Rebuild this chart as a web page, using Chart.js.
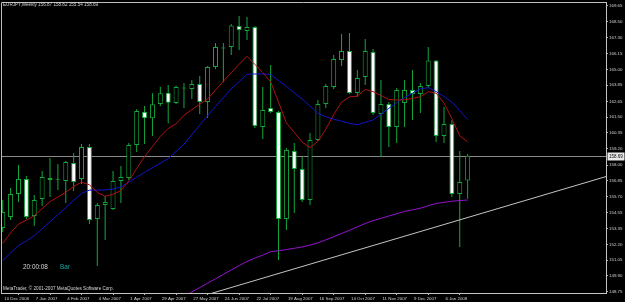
<!DOCTYPE html>
<html>
<head>
<meta charset="utf-8">
<title>EURJPY,Weekly</title>
<script src="https://cdn.jsdelivr.net/npm/chart.js@4.4.1/dist/chart.umd.min.js"></script>
<style>
  html, body { margin: 0; padding: 0; background: #000; }
  canvas { display: block; }
</style>
</head>
<body>
<canvas id="chart" width="625" height="302"></canvas>
<script>
// EURJPY weekly bars, 10 Dec 2006 .. 27 Jan 2008 (one entry per bar, left to right)
const OPEN  = [153.40,154.21,155.89,156.99,154.28,155.52,157.06,156.90,156.84,158.15,
               156.99,159.32,154.06,155.09,154.79,156.84,157.06,159.47,161.90,161.42,
               162.47,163.29,162.54,163.60,163.56,163.93,162.61,165.17,166.52,166.63,
               168.17,167.80,168.09,160.79,162.17,161.88,154.06,159.03,157.72,155.45,
               159.84,162.47,163.71,165.68,166.34,163.27,164.44,166.27,161.74,162.47,
               160.79,162.54,163.49,163.20,163.78,165.65,160.13,161.00,155.89,156.87];
const HIGH  = [155.45,156.33,158.01,157.20,155.82,157.57,158.52,158.08,158.30,158.89,
               159.54,159.54,155.23,155.74,157.57,157.94,159.62,162.10,162.32,163.25,
               163.73,163.86,163.82,164.00,164.22,164.51,165.24,166.92,166.92,168.31,
               168.90,168.82,168.17,163.71,165.32,161.95,159.25,159.62,158.59,160.35,
               162.76,163.93,166.05,167.58,167.66,164.95,167.22,166.49,164.22,162.61,
               163.64,164.22,164.95,164.00,166.63,165.68,162.25,161.30,159.03,158.82];
const LOW   = [153.11,153.99,155.31,154.06,153.55,155.01,155.67,156.18,155.23,156.11,
               156.62,153.70,150.63,152.53,154.72,155.23,156.91,158.96,159.54,160.13,
               162.32,161.06,162.47,162.17,162.83,161.74,161.44,165.02,164.06,166.05,
               166.41,167.14,160.71,159.91,161.81,151.07,153.26,154.50,155.31,155.09,
               159.76,162.17,163.56,165.24,163.20,162.98,163.86,161.66,158.59,159.32,
               159.62,160.79,161.30,161.81,163.64,159.69,159.62,155.67,152.02,155.54];
const CLOSE = [154.57,155.89,156.99,154.21,155.45,157.13,156.91,156.95,158.23,156.77,
               159.32,153.99,155.09,155.31,156.84,157.13,159.47,161.95,161.42,162.44,
               163.25,162.56,163.71,163.67,163.93,162.61,165.17,166.63,166.60,168.20,
               167.87,168.09,160.86,162.03,161.88,154.06,159.11,157.72,155.45,159.84,
               162.47,163.78,165.75,166.34,163.27,164.37,166.34,161.81,162.47,160.79,
               163.49,163.49,163.20,163.78,165.65,160.13,161.00,155.89,156.77,158.69];

// moving averages
const MA_RED    = [152.29,153.05,153.69,153.98,154.31,154.82,155.33,155.67,156.01,156.44,
                   156.75,156.56,156.01,155.72,155.87,156.14,156.85,157.75,158.62,159.36,
                   160.10,160.68,161.01,161.64,162.06,162.45,162.83,163.48,164.12,164.75,
                   165.37,165.95,165.36,164.76,164.09,162.59,161.09,160.39,159.69,159.28,
                   159.73,160.63,161.69,162.60,162.98,163.04,163.53,163.37,163.09,162.80,
                   162.76,162.77,162.88,162.99,163.37,163.26,162.54,161.40,160.14,159.70];
const MA_BLUE   = [151.02,151.59,152.12,152.46,152.83,153.35,153.87,154.38,154.90,155.42,
                   155.93,156.17,156.18,156.18,156.25,156.42,156.74,157.12,157.47,157.81,
                   158.14,158.48,159.00,159.53,160.22,160.92,161.61,162.28,162.93,163.58,
                   164.10,164.64,164.66,164.66,164.62,164.18,163.76,163.29,162.83,162.31,
                   161.79,161.53,161.36,161.21,161.06,160.95,161.12,161.30,161.71,162.15,
                   162.55,162.94,163.26,163.57,163.66,163.38,163.00,162.61,161.98,161.33];
const MA_PURPLE = [null,null,null,null,null,null,null,null,null,null,
                   null,null,null,null,null,null,null,null,null,null,
                   null,null,null,148.41,148.73,149.05,149.37,149.69,150.02,150.34,
                   150.66,150.96,151.21,151.42,151.68,151.74,151.83,151.92,152.02,152.16,
                   152.32,152.54,152.77,153.00,153.24,153.49,153.73,153.94,154.11,154.28,
                   154.45,154.62,154.73,154.85,155.03,155.20,155.28,155.36,155.41,155.45];

// hand-drawn trendline: bar index and price of its two ends
const TREND_BARS   = [26.5, 76.6];
const TREND_PRICES = [148.63, 157.17];

const PRICE_TICKS = [169.65,168.50,167.30,166.15,165.00,163.85,162.65,161.50,160.35,159.20,
                     158.00,156.85,155.70,154.55,153.35,152.20,151.05,149.90,148.75];
const TICK_BARS   = [0,4,8,12,16,20,24,28,32,36,40,44,48,52,56];
const TICK_LABELS = ['10 Dec 2006','7 Jan 2007','4 Feb 2007','4 Mar 2007','1 Apr 2007',
                     '29 Apr 2007','27 May 2007','24 Jun 2007','22 Jul 2007','19 Aug 2007',
                     '16 Sep 2007','14 Oct 2007','11 Nov 2007','9 Dec 2007','6 Jan 2008'];
const SYMBOL = 'EURJPY,Weekly';

const CANDLE_GREEN = '#14a83c';
const FONT = '"Liberation Sans", Arial, sans-serif';

const last = CLOSE.length - 1;

// ── Overlay: bid line, price box, header and terminal texts ──────────────────
const mt4Overlay = {
  id: 'mt4Overlay',
  beforeDatasetsDraw(chart) {
    const { ctx, chartArea: a, scales: { y } } = chart;
    const py = Math.round(y.getPixelForValue(CLOSE[last])) + 0.5;
    ctx.save();
    ctx.strokeStyle = '#8a8a8a';
    ctx.lineWidth = 1;
    ctx.beginPath();
    ctx.moveTo(a.left, py);
    ctx.lineTo(a.right, py);
    ctx.stroke();
    ctx.restore();
  },
  afterDraw(chart) {
    const { ctx, chartArea: a, scales: { y } } = chart;
    ctx.save();

    // left and top frame
    ctx.strokeStyle = '#bdbdbd';
    ctx.lineWidth = 1;
    ctx.beginPath();
    ctx.moveTo(a.left + 0.5, a.bottom);
    ctx.lineTo(a.left + 0.5, a.top + 0.5);
    ctx.lineTo(a.right, a.top + 0.5);
    ctx.stroke();

    ctx.textBaseline = 'middle';
    ctx.fillStyle = '#d6d6d6';
    ctx.font = `4.6px ${FONT}`;
    const head = [OPEN[last], HIGH[last], LOW[last], CLOSE[last]].map(v => v.toFixed(2)).join(' ');
    ctx.fillText(`${SYMBOL} ${head}`, a.left + 2, a.top + 3.2);
    ctx.fillText('MetaTrader, \u00a9 2001-2007 MetaQuotes Software Corp.', a.left + 2, a.bottom - 4);

    ctx.font = `6.4px ${FONT}`;
    ctx.fillText('20:00:08', 23, 267.5);
    ctx.fillStyle = '#1aa59b';
    ctx.fillText('Bar', 60, 267.5);

    // current price box on the axis
    const py = Math.round(y.getPixelForValue(CLOSE[last])) + 0.5;
    ctx.fillStyle = '#e8e8e8';
    ctx.fillRect(a.right + 1.5, py - 4, 17, 8);
    ctx.fillStyle = '#000';
    ctx.font = `4.5px ${FONT}`;
    ctx.fillText(CLOSE[last].toFixed(2), a.right + 3, py);
    ctx.restore();
  }
};

// ── Chart ─────────────────────────────────────────────────────────────────────
const bodies = OPEN.map((o, i) => ({ x: i, y: [o, CLOSE[i]] }));
const wicks  = LOW.map((l, i) => ({ x: i, y: [l, HIGH[i]] }));
const line = arr => arr.map((v, i) => ({ x: i, y: v }));

new Chart(document.getElementById('chart'), {
  type: 'bar',
  data: {
    datasets: [
      {
        type: 'line', data: line(MA_RED), borderColor: '#b01212', borderWidth: 1,
        pointRadius: 0, tension: 0, order: 0,
      },
      {
        type: 'line', data: line(MA_BLUE), borderColor: '#1414cc', borderWidth: 1,
        pointRadius: 0, tension: 0, order: 0,
      },
      {
        type: 'line', data: line(MA_PURPLE), borderColor: '#9612d2', borderWidth: 1,
        pointRadius: 0, tension: 0, order: 0,
      },
      {
        type: 'line',
        data: TREND_BARS.map((b, k) => ({ x: b, y: TREND_PRICES[k] })),
        borderColor: '#c4c4c4', borderWidth: 1, pointRadius: 0, order: 0,
      },
      {
        data: bodies,
        backgroundColor: OPEN.map((o, i) => CLOSE[i] >= o ? '#000' : '#fff'),
        borderColor: CANDLE_GREEN, borderWidth: 1, borderSkipped: false,
        grouped: false, maxBarThickness: 5, minBarLength: 1, order: 1,
      },
      {
        data: wicks,
        backgroundColor: CANDLE_GREEN, borderWidth: 0,
        grouped: false, maxBarThickness: 1, order: 2,
      },
    ],
  },
  options: {
    responsive: false, animation: false, devicePixelRatio: 1, events: [],
    layout: { padding: { left: 1, top: 2, right: 0, bottom: 0 } },
    plugins: { legend: { display: false }, tooltip: { enabled: false } },
    scales: {
      x: {
        type: 'linear', min: -0.22, max: 76.56, offset: false,
        afterBuildTicks: s => { s.ticks = TICK_BARS.map(v => ({ value: v })); },
        afterFit: s => { s.height = 9; s.paddingLeft = 0; s.paddingRight = 0; },
        ticks: {
          autoSkip: false, maxRotation: 0, minRotation: 0, align: 'start', labelOffset: 1.5,
          padding: 1, color: '#d0d0d0', font: { family: FONT, size: 4.4 },
          callback: (v, i) => TICK_LABELS[i],
        },
        grid: { drawOnChartArea: false, drawTicks: true, tickLength: 2, color: '#b0b0b0' },
        border: { display: true, color: '#c4c4c4' },
      },
      y: {
        position: 'right', min: 148.655, max: 169.92, stacked: false,
        afterBuildTicks: s => { s.ticks = PRICE_TICKS.map(v => ({ value: v })); },
        afterFit: s => { s.width = 19; s.paddingTop = 0; s.paddingBottom = 0; },
        ticks: {
          autoSkip: false, padding: 1, color: '#d0d0d0', font: { family: FONT, size: 4.4 },
          callback: v => v.toFixed(2),
        },
        grid: { drawOnChartArea: false, drawTicks: true, tickLength: 2, color: '#b0b0b0' },
        border: { display: true, color: '#c4c4c4' },
      },
    },
  },
  plugins: [mt4Overlay],
});
</script>
</body>
</html>
